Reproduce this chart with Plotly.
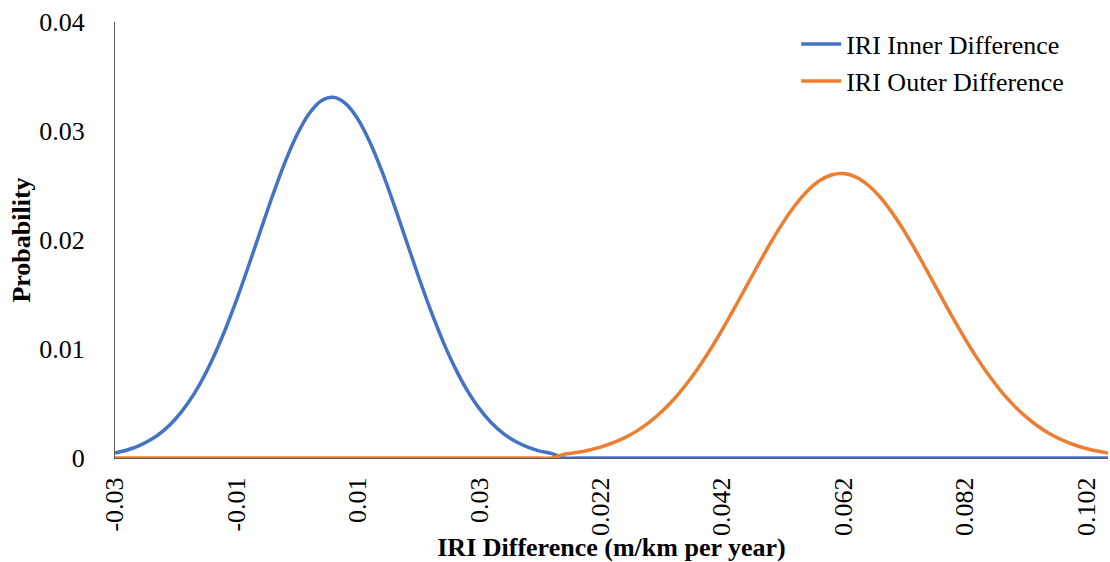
import plotly.graph_objects as go

# Category labels (m/km per year): inner-lane bins followed by outer-lane bins
inner_bins = [-0.030, -0.028, -0.026, -0.024, -0.022, -0.020, -0.018, -0.016, -0.014, -0.012,
              -0.010, -0.008, -0.006, -0.004, -0.002, 0.000, 0.002, 0.004, 0.006, 0.008,
              0.010, 0.012, 0.014, 0.016, 0.018, 0.020, 0.022, 0.024, 0.026, 0.028,
              0.030, 0.032, 0.034, 0.036, 0.038, 0.040, 0.042]
outer_bins = [0.016, 0.018, 0.020, 0.022, 0.024, 0.026, 0.028, 0.030, 0.032, 0.034,
              0.036, 0.038, 0.040, 0.042, 0.044, 0.046, 0.048, 0.050, 0.052, 0.054,
              0.056, 0.058, 0.060, 0.062, 0.064, 0.066, 0.068, 0.070, 0.072, 0.074,
              0.076, 0.078, 0.080, 0.082, 0.084, 0.086, 0.088, 0.090, 0.092, 0.094,
              0.096, 0.098, 0.100, 0.102, 0.104, 0.106]

# Probabilities per bin
inner_prob = [0.000458, 0.000730, 0.001132, 0.001710, 0.002514, 0.003599, 0.005015, 0.006805,
              0.008987, 0.011559, 0.014461, 0.017619, 0.020899, 0.024130, 0.027122, 0.029677,
              0.031611, 0.032779, 0.033090, 0.032517, 0.031107, 0.028969, 0.026262, 0.023177,
              0.019913, 0.016653, 0.013558, 0.010748, 0.008292, 0.006226, 0.004555, 0.003240,
              0.002245, 0.001515, 0.000996, 0.000636, 0.000396]
outer_prob = [0.000344, 0.000500, 0.000712, 0.000998, 0.001377, 0.001867, 0.002489, 0.003268,
              0.004215, 0.005348, 0.006671, 0.008190, 0.009884, 0.011735, 0.013697, 0.015728,
              0.017761, 0.019726, 0.021546, 0.023143, 0.024450, 0.025406, 0.025962, 0.026092,
              0.025789, 0.025069, 0.023968, 0.022535, 0.020838, 0.018951, 0.016952, 0.014914,
              0.012904, 0.010978, 0.009187, 0.007561, 0.006123, 0.004873, 0.003816, 0.002939,
              0.002226, 0.001657, 0.001214, 0.000874, 0.000619, 0.000431]

categories = inner_bins + outer_bins
n_in, n_out = len(inner_bins), len(outer_bins)
positions = list(range(len(categories)))

# Each series spans the whole category axis, zero outside its own bins
inner_series = inner_prob + [0] * n_out
outer_series = [0] * n_in + outer_prob

label_step = 10
tick_pos = positions[::label_step]
tick_text = [f"{categories[i]:g}" for i in tick_pos]

BLUE = "#4472C4"
ORANGE = "#ED7D31"
FONT = "Liberation Serif"
FS = 26

fig = go.Figure()
fig.add_trace(go.Scatter(x=positions, y=inner_series, mode="lines", name="IRI Inner Difference",
                         line=dict(color=BLUE, width=3.5, shape="spline", smoothing=1.0)))
fig.add_trace(go.Scatter(x=positions, y=outer_series, mode="lines", name="IRI Outer Difference",
                         line=dict(color=ORANGE, width=3.5, shape="spline", smoothing=1.0)))

fig.update_layout(
    width=1110, height=562,
    margin=dict(l=115, r=2, t=22, b=104),
    paper_bgcolor="white", plot_bgcolor="white",
    font=dict(family=FONT, size=FS, color="black"),
    showlegend=True,
    legend=dict(x=0.686, y=1.003, xanchor="left", yanchor="top",
                bgcolor="rgba(0,0,0,0)", font=dict(family=FONT, size=FS),
                tracegroupgap=0, itemwidth=40),
    xaxis=dict(
        range=[0, 81.8], tickmode="array", tickvals=tick_pos, ticktext=tick_text,
        tickangle=-90, showgrid=False, zeroline=False, ticks="",
        showline=True, linecolor="#595959", linewidth=1,
        ticklabelstandoff=8,
        title=dict(text="<b>IRI Difference (m/km per year)</b>", standoff=4,
                   font=dict(family=FONT, size=FS)),
    ),
    yaxis=dict(
        range=[0, 0.04], tickmode="array", tickvals=[0, 0.01, 0.02, 0.03, 0.04],
        ticktext=["0", "0.01", "0.02", "0.03", "0.04"],
        showgrid=False, zeroline=False, ticks="",
        showline=True, linecolor="#595959", linewidth=1,
        ticklabelstandoff=24,
        title=dict(text="<b>Probability</b>", standoff=1,
                   font=dict(family=FONT, size=FS)),
    ),
)

fig.write_html("out.html")
